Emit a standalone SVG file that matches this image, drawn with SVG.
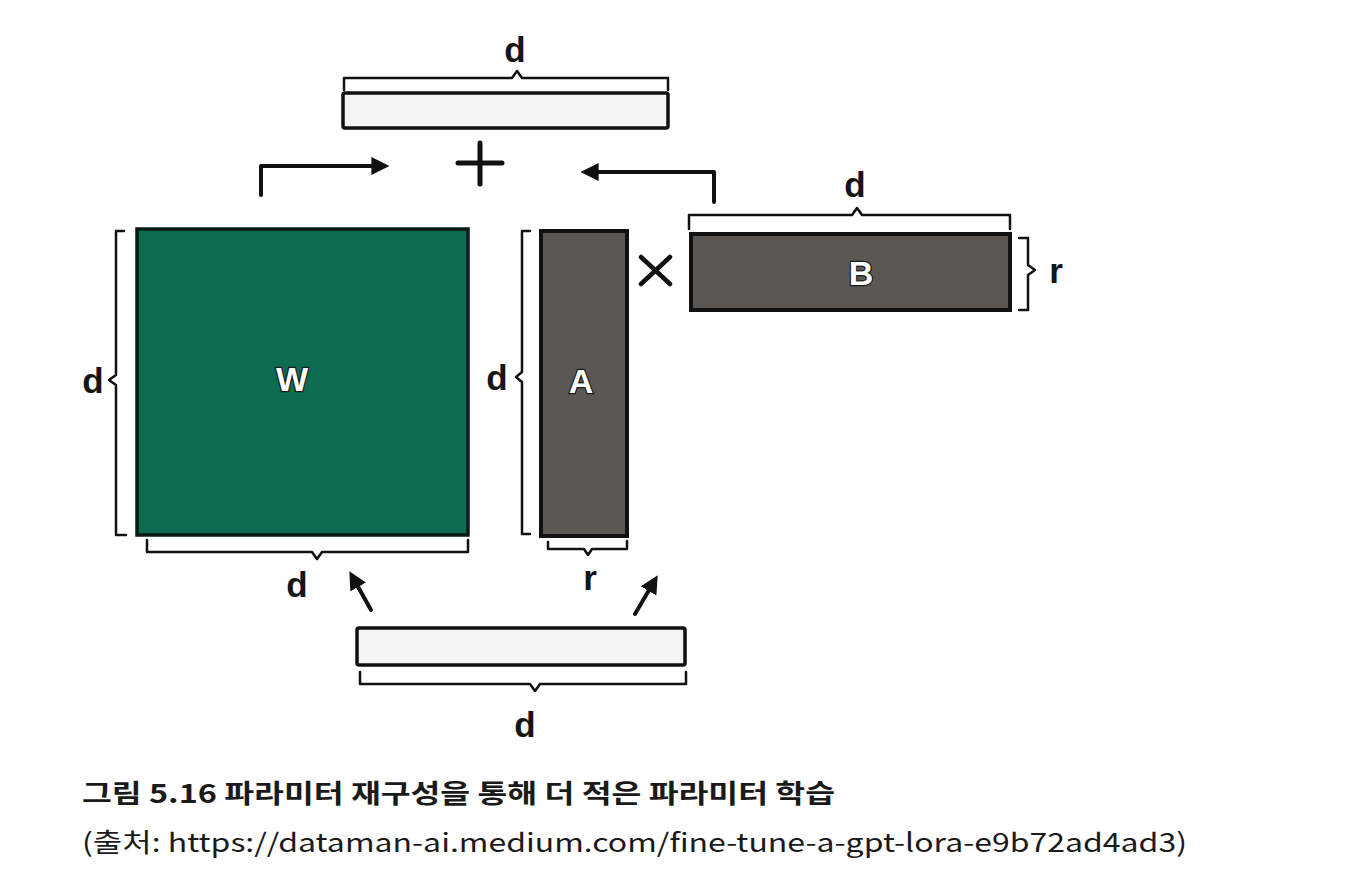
<svg xmlns="http://www.w3.org/2000/svg" width="1360" height="892" viewBox="0 0 1360 892">
<style>
.ln{fill:none;stroke:#111;stroke-width:4;stroke-linecap:round;stroke-linejoin:round}
.br{fill:none;stroke:#111;stroke-width:2.5;stroke-linecap:round;stroke-linejoin:round}
.lbl{font-family:"Liberation Sans","DejaVu Sans",sans-serif;font-weight:bold;font-size:35px;fill:#151515;text-anchor:middle}
.in{font-family:"Liberation Sans","DejaVu Sans",sans-serif;font-weight:bold;font-size:34px;fill:#fff;text-anchor:middle;stroke:#1a1a1a;stroke-width:2.5;paint-order:stroke}
.cap{font-family:"Noto Sans CJK KR","Noto Sans",sans-serif;fill:#1a1a1a}
</style>
<defs>
<marker id="ah" viewBox="0 0 10 10" refX="7" refY="5" markerWidth="4.5" markerHeight="4.5" orient="auto" markerUnits="strokeWidth">
<path d="M0,0 L10,5 L0,10 z" fill="#111"/>
</marker>
</defs>
<rect width="1360" height="892" fill="#fff"/>

<g id="out">
<rect x="343" y="93" width="325" height="35" fill="#f3f3f3" stroke="#111" stroke-width="3.5" rx="2"/>
<path class="br" d="M344,90 V78 H512 L517,71 L522,78 H668 V90"/>
<text class="lbl" x="515" y="62">d</text>
</g>

<g id="plus">
<path d="M458,163 H502 M480,143 V184" stroke="#111" stroke-width="5" stroke-linecap="round"/>
</g>

<g id="W">
<rect x="137" y="229" width="331" height="306" fill="#0d6b51" stroke="#0a1a14" stroke-width="3.5"/>
<text class="in" x="292" y="391">W</text>
<path class="br" d="M124,231 H116 V375 L109,380 L116,385 V535 H126"/>
<text class="lbl" x="93" y="393">d</text>
<path class="br" d="M147,540 V552 H312 L317,559 L322,552 H468 V540"/>
<text class="lbl" x="297" y="597">d</text>
</g>

<g id="A">
<rect x="541" y="231" width="86" height="305" fill="#5b5854" stroke="#111" stroke-width="4"/>
<text class="in" x="581" y="393">A</text>
<path class="br" d="M530,231 H522 V372 L516,377 L522,382 V534 H530"/>
<text class="lbl" x="497" y="390">d</text>
<path class="br" d="M548,542 V549 H584 L588,555 L592,549 H627 V541"/>
<text class="lbl" x="590" y="590">r</text>
</g>

<g id="times">
<path d="M641,257 L670,284 M670,257 L641,284" stroke="#111" stroke-width="4.5" stroke-linecap="round"/>
</g>

<g id="B">
<rect x="691" y="234" width="319" height="76" fill="#5b5854" stroke="#111" stroke-width="4"/>
<text class="in" x="861" y="285">B</text>
<path class="br" d="M689,229 V215 H852 L857,208 L862,215 H1010 V229"/>
<text class="lbl" x="855" y="197">d</text>
<path class="br" d="M1019,238 H1028 V265 L1035,270 L1028,275 V310 H1019"/>
<text class="lbl" x="1056" y="283">r</text>
</g>

<g id="in">
<rect x="357" y="628" width="328" height="37" fill="#f4f4f4" stroke="#111" stroke-width="3.5" rx="2"/>
<path class="br" d="M360,672 V684 H530 L535,691 L540,684 H686 V672"/>
<text class="lbl" x="525" y="737">d</text>
</g>

<g id="connectors">
<path class="ln" d="M261,195 V166 H384" marker-end="url(#ah)"/>
<path class="ln" d="M714,202 V172 H586" marker-end="url(#ah)"/>
<path class="ln" d="M371,610 L352,576" marker-end="url(#ah)"/>
<path class="ln" d="M635,614 L655,580" marker-end="url(#ah)"/>
</g>

<g id="caption">
<text class="cap" x="82" y="803" font-size="26" font-weight="bold" textLength="753" lengthAdjust="spacingAndGlyphs">그림 5.16 파라미터 재구성을 통해 더 적은 파라미터 학습</text>
<text class="cap" x="82" y="852" font-size="26" textLength="1105" lengthAdjust="spacingAndGlyphs">(출처: https://dataman-ai.medium.com/fine-tune-a-gpt-lora-e9b72ad4ad3)</text>
</g>
</svg>
